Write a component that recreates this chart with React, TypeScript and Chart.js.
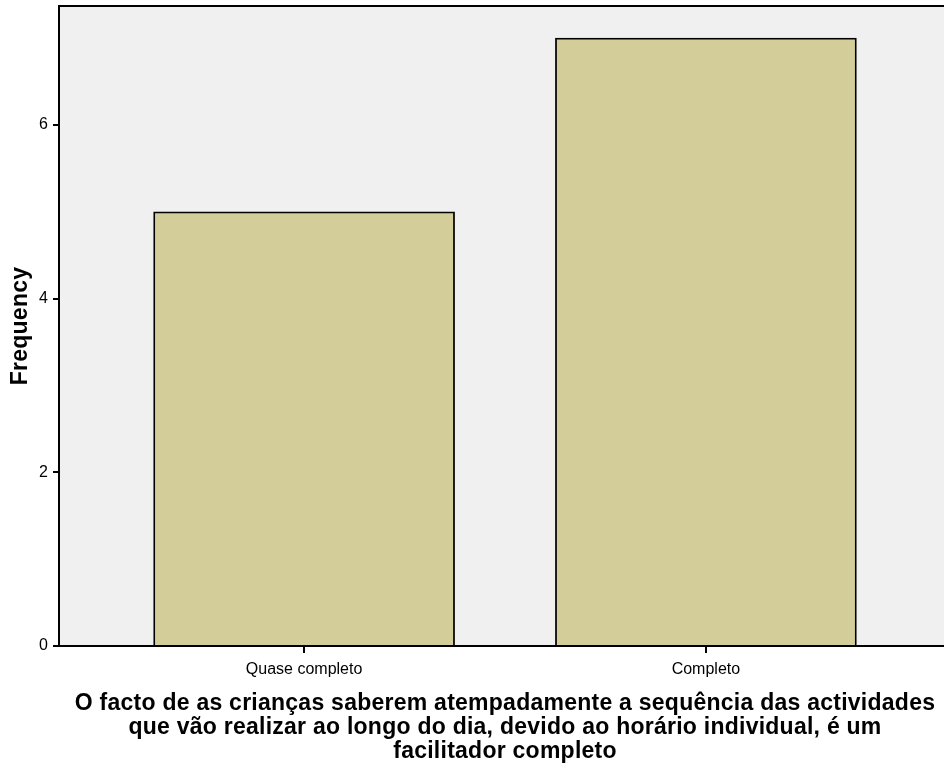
import React, { useEffect, useRef } from "react";
import { Chart, registerables } from "chart.js";

Chart.register(...registerables);

const categories = ["Quase completo", "Completo"];
const frequencies = [5, 7];
const yTicks = [0, 2, 4, 6];
const yMax = 7.37;
const xMin = -0.61;
const xMax = 1.61;
const xTitle = [
  "O facto de as crianças saberem atempadamente a sequência das actividades",
  "que vão realizar ao longo do dia, devido ao horário individual, é um",
  "facilitador completo",
];
const yTitle = "Frequency";

const FONT = "Arial, 'Liberation Sans', Helvetica, sans-serif";

export default function App() {
  const ref = useRef<HTMLCanvasElement | null>(null);
  useEffect(() => {
    if (!ref.current) return;
    const areaPlugin = {
      id: "areaPlugin",
      beforeDraw(chart: any) {
        const { ctx, chartArea } = chart;
        ctx.save();
        ctx.fillStyle = "#F0F0F0";
        ctx.fillRect(chartArea.left, chartArea.top, chartArea.right - chartArea.left, chartArea.bottom - chartArea.top);
        ctx.restore();
      },
      afterDraw(chart: any) {
        const { ctx, chartArea } = chart;
        ctx.save();
        ctx.strokeStyle = "#000";
        ctx.lineWidth = 2;
        ctx.beginPath();
        ctx.moveTo(chartArea.left - 1, chartArea.top);
        ctx.lineTo(chartArea.right, chartArea.top);
        ctx.stroke();
        // titles
        ctx.fillStyle = "#000";
        ctx.font = `bold 23px ${FONT}`;
        (ctx as any).letterSpacing = "0.25px";
        ctx.textAlign = "center";
        ctx.textBaseline = "middle";
        const cx = (chartArea.left + chartArea.right) / 2;
        xTitle.forEach((line, i) => {
          ctx.fillText(line, cx, 704 + i * 24);
        });
        ctx.save();
        ctx.translate(21, (chartArea.top + chartArea.bottom) / 2);
        ctx.rotate(-Math.PI / 2);
        ctx.fillText(yTitle, 0, 0);
        ctx.restore();
        ctx.restore();
      },
    };
    const chart = new Chart(ref.current, {
      type: "bar",
      data: {
        datasets: [
          {
            data: frequencies.map((v, i) => ({ x: i, y: v })),
            backgroundColor: "#D3CE99",
            borderColor: "#000",
            borderWidth: 1.8,
            barThickness: 301,
          },
        ],
      },
      options: {
        responsive: false,
        animation: false,
        layout: { autoPadding: false, padding: { top: 6, right: 1, left: 0, bottom: 0 } },
        plugins: { legend: { display: false }, tooltip: { enabled: false } },
        scales: {
          x: {
            type: "linear",
            offset: false,
            min: xMin,
            max: xMax,
            afterFit: (s: any) => {
              s.height = 121;
              s.paddingLeft = 0;
              s.paddingRight = 0;
            },
            afterBuildTicks: (s: any) => {
              s.ticks = categories.map((_, i) => ({ value: i }));
            },
            border: { color: "#000", width: 2 },
            grid: {
              offset: false,
              drawOnChartArea: false,
              drawTicks: true,
              tickLength: 7,
              color: "#000",
              lineWidth: 2,
            },
            ticks: {
              color: "#000",
              font: { family: FONT, size: 16 },
              padding: 7,
              maxRotation: 0,
              autoSkip: false,
              callback: (v: any) => categories[Math.round(Number(v))] ?? "",
            },
            title: { display: false },
          },
          y: {
            min: 0,
            max: yMax,
            afterFit: (s: any) => {
              s.width = 59;
              s.paddingTop = 0;
              s.paddingBottom = 0;
            },
            afterBuildTicks: (s: any) => {
              s.ticks = yTicks.map((v) => ({ value: v }));
            },
            border: { color: "#000", width: 2 },
            grid: {
              drawOnChartArea: false,
              drawTicks: true,
              tickLength: 6,
              color: "#000",
              lineWidth: 2,
            },
            ticks: { color: "#000", font: { family: FONT, size: 16 }, padding: 5 },
            title: { display: false },
          },
        },
      },
      plugins: [areaPlugin],
    });
    return () => chart.destroy();
  }, []);
  return (
    <div style={{ position: "fixed", left: 0, top: 0, width: 944, height: 767, overflow: "hidden", background: "#fff" }}>
      <canvas ref={ref} width={952} height={767} style={{ display: "block", width: 952, height: 767 }} />
    </div>
  );
}
